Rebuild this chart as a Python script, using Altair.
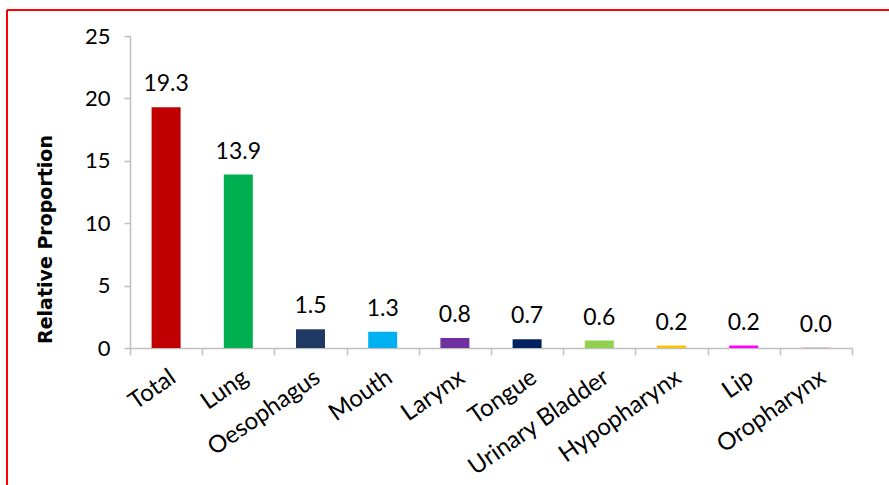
import altair as alt
import pandas as pd

categories = ["Total", "Lung", "Oesophagus", "Mouth", "Larynx", "Tongue",
              "Urinary Bladder", "Hypopharynx", "Lip", "Oropharynx"]
values = [19.3, 13.9, 1.5, 1.3, 0.8, 0.7, 0.6, 0.2, 0.2, 0.02]
colors = ["#C00000", "#00B050", "#1F3864", "#00B0F0", "#7030A0", "#002060",
          "#92D050", "#FFC000", "#FF00FF", "#C0504D"]

df = pd.DataFrame({"cat": categories, "val": values, "col": colors})

FONT = "Lato"
W, H = 722, 312

x = alt.X("cat:N", sort=categories, title=None,
          scale=alt.Scale(paddingInner=0, paddingOuter=0),
          axis=alt.Axis(labelAngle=-35, labelAlign="right", labelBaseline="top",
                        labelFontSize=24, labelFont=FONT, labelColor="#000000",
                        labelPadding=10, tickBand="extent", tickSize=7,
                        tickColor="#BFBFBF", domainColor="#BFBFBF",
                        domainWidth=1.5, tickWidth=1.5, labelOverlap=False))
y = alt.Y("val:Q", title="Relative  Proportion",
          scale=alt.Scale(domain=[0, 25], nice=False),
          axis=alt.Axis(values=[0, 5, 10, 15, 20, 25], grid=False, tickSize=6,
                        tickColor="#BFBFBF", domainColor="#BFBFBF",
                        domainWidth=1.5, tickWidth=1.5,
                        labelFontSize=22, labelFont=FONT, labelColor="#000000",
                        labelPadding=14, titleFont="DejaVu Sans", titleFontSize=19,
                        titleFontWeight="bold", titleColor="#000000",
                        titleX=-85, titleY=203, titleAngle=-90,
                        titleAlign="center", titleBaseline="middle"))

base = alt.Chart(df)
bars = base.mark_bar(size=29).encode(x=x, y=y,
                                     color=alt.Color("col:N", scale=None, legend=None))
labels = base.mark_text(font=FONT, fontSize=23, color="#000000", dy=-16,
                        baseline="alphabetic").encode(
    x=alt.X("cat:N", sort=categories), y="val:Q",
    text=alt.Text("val:Q", format=".1f"))

border_top = alt.Chart(df).mark_rule(color="#FF0000", strokeWidth=1.5).encode(
    x=alt.value(-123), x2=alt.value(W + 40), y=alt.value(-26))
border_left = alt.Chart(df).mark_rule(color="#FF0000", strokeWidth=1.5).encode(
    x=alt.value(-123), y=alt.value(-26), y2=alt.value(H + 140))

chart = alt.layer(bars, labels, border_top, border_left).properties(
    width=W, height=H,
    autosize=alt.AutoSizeParams(type="none"),
    padding={"left": 130, "top": 36, "right": 37, "bottom": 137},
    background="#FFFFFF",
).configure_view(stroke=None)

chart.save("out.html", embed_options={"renderer": "svg", "actions": False})
